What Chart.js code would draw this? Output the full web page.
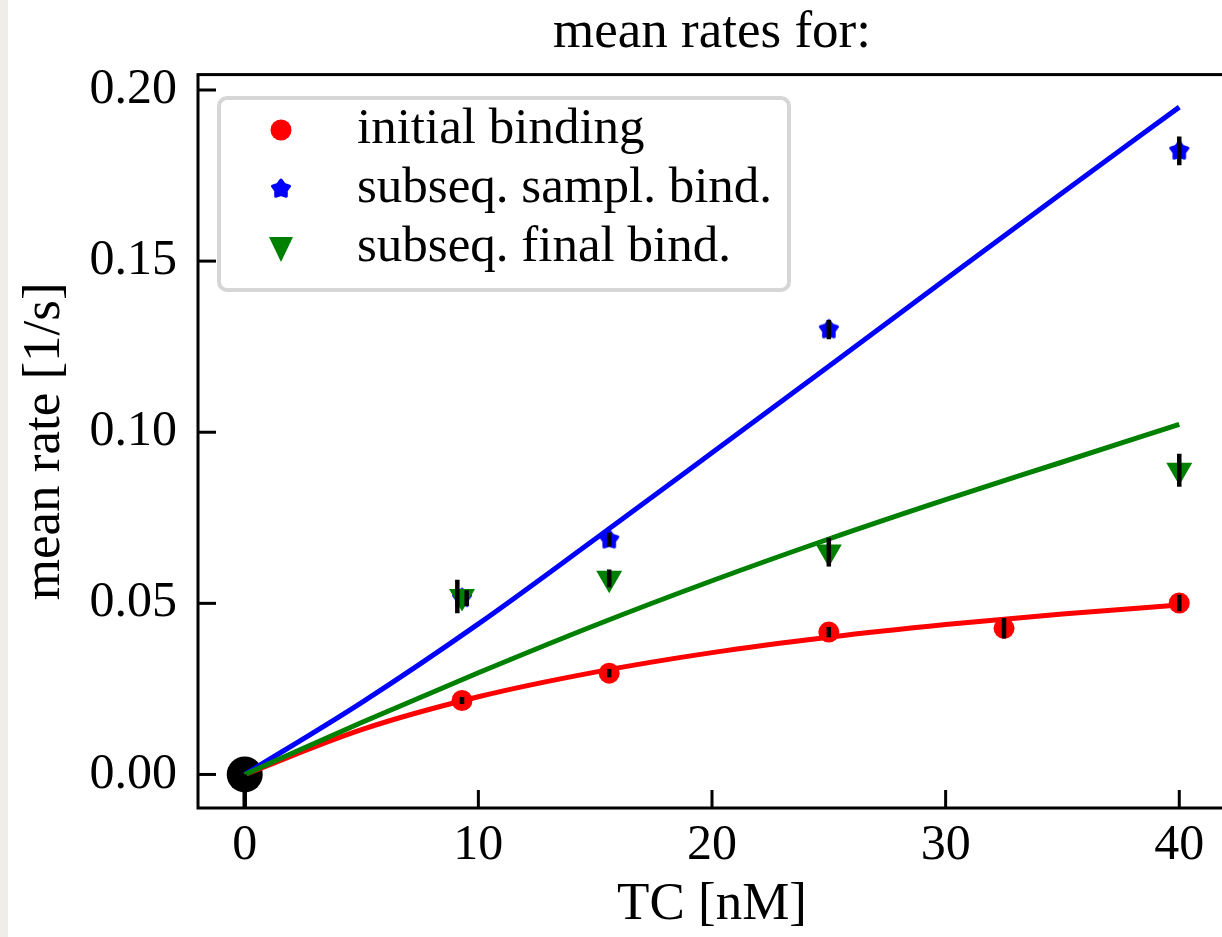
<!DOCTYPE html>
<html>
<head>
<meta charset="utf-8">
<script src="https://cdn.jsdelivr.net/npm/chart.js@4.4.1/dist/chart.umd.min.js"></script>
<style>
  html, body { margin: 0; padding: 0; background: #fff; overflow: hidden; }
  #strip { position: absolute; left: 0; top: 0; width: 8px; height: 937px; background: #efede8; }
  #rates { position: absolute; left: 0; top: 0; }
</style>
</head>
<body>
<div id="strip"></div>
<canvas id="rates" width="1232" height="937"></canvas>
<script>
// measured points (TC in nM, mean rate in 1/s)
var tcRed = [9.3, 15.6, 25, 32.5, 40];
var rateRed = [0.0216, 0.0296, 0.0416, 0.0427, 0.0501];
var errRed = [0.0010, 0.0012, 0.0015, 0.0030, 0.0024];
var errXRed = [9.3, 15.6, 25, 32.5, 40];

var tcBlue = [9.3, 15.6, 25, 40];
var rateBlue = [0.0515, 0.0686, 0.1300, 0.1822];
var errBlue = [0.0023, 0.0020, 0.0028, 0.0042];
var errXBlue = [9.5, 15.6, 25, 40];

var tcGreen = [9.3, 15.6, 25, 40];
var rateGreen = [0.0520, 0.0573, 0.0650, 0.0889];
var errGreen = [0.0049, 0.0026, 0.0042, 0.0048];
var errXGreen = [9.1, 15.6, 25, 40];

var tcOrigin = [0];
var rateOrigin = [0];
var errOriginLow = [0.012];

// fitted curves
var fitTc = [0, 5, 10, 15, 20, 25, 30, 35, 40];
var fitRed = [0, 0.0131, 0.0227, 0.0299, 0.0356, 0.0401, 0.0438, 0.0469, 0.0495];
var fitBlue = [0, 0.0210, 0.0440, 0.0688, 0.0940, 0.1193, 0.1447, 0.1700, 0.1950];
var fitGreen = [0, 0.0152, 0.0297, 0.0436, 0.0566, 0.0688, 0.0803, 0.0913, 0.1023];

var xTicks = [0, 10, 20, 30, 40];
var yTicks = [0, 0.05, 0.10, 0.15, 0.20];
var yTickLabels = ['0.00', '0.05', '0.10', '0.15', '0.20'];

var labels = ['initial binding', 'subseq. sampl. bind.', 'subseq. final bind.'];

var FONT = 'Liberation Serif';

function pts(xs, ys) {
    return xs.map(function (x, i) { return {x: x, y: ys[i]}; });
}

function makeStar(r) {
    var s = Math.ceil(r * 2 + 6);
    var c = document.createElement('canvas');
    c.width = s; c.height = s;
    var g = c.getContext('2d');
    g.translate(s / 2, s / 2);
    g.beginPath();
    for (var i = 0; i < 10; i++) {
        var rr = i % 2 ? r * 0.62 : r;
        var a = -Math.PI / 2 + i * Math.PI / 5;
        g.lineTo(rr * Math.cos(a), rr * Math.sin(a));
    }
    g.closePath();
    g.fillStyle = '#0000ff';
    g.fill();
    g.lineJoin = 'round';
    g.lineWidth = 3;
    g.strokeStyle = '#0000ff';
    g.stroke();
    return c;
}
var star = makeStar(9);

// error bars, inward ticks, frame and legend
var extras = {
    id: 'extras',
    afterDatasetsDraw: function (chart) {
        var ctx = chart.ctx, xs = chart.scales.x, ys = chart.scales.y, a = chart.chartArea;
        var bars = [
            [errXRed, rateRed, errRed, errRed],
            [errXBlue, rateBlue, errBlue, errBlue],
            [errXGreen, rateGreen, errGreen, errGreen],
            [tcOrigin, rateOrigin, errOriginLow, [0]]
        ];
        ctx.save();
        ctx.beginPath();
        ctx.rect(a.left, a.top, a.right - a.left, a.bottom - a.top);
        ctx.clip();
        ctx.strokeStyle = '#000';
        ctx.lineWidth = 4.5;
        bars.forEach(function (b) {
            b[0].forEach(function (x, i) {
                var px = xs.getPixelForValue(x);
                ctx.beginPath();
                ctx.moveTo(px, ys.getPixelForValue(b[1][i] - b[2][i]));
                ctx.lineTo(px, ys.getPixelForValue(b[1][i] + b[3][i]));
                ctx.stroke();
            });
        });
        ctx.restore();
    },
    afterDraw: function (chart) {
        var ctx = chart.ctx, xs = chart.scales.x, ys = chart.scales.y, a = chart.chartArea;
        ctx.save();
        ctx.strokeStyle = '#000';
        ctx.lineWidth = 3;
        ctx.strokeRect(a.left, a.top, a.right - a.left, a.bottom - a.top);
        xTicks.forEach(function (v) {
            var px = xs.getPixelForValue(v);
            ctx.beginPath();
            ctx.moveTo(px, a.bottom);
            ctx.lineTo(px, a.bottom - 18);
            ctx.stroke();
        });
        yTicks.forEach(function (v) {
            var py = ys.getPixelForValue(v);
            ctx.beginPath();
            ctx.moveTo(a.left, py);
            ctx.lineTo(a.left + 18, py);
            ctx.stroke();
        });

        // legend box
        var bx = 219, by = 98, bw = 570, bh = 192, r = 8;
        ctx.beginPath();
        ctx.moveTo(bx + r, by);
        ctx.arcTo(bx + bw, by, bx + bw, by + bh, r);
        ctx.arcTo(bx + bw, by + bh, bx, by + bh, r);
        ctx.arcTo(bx, by + bh, bx, by, r);
        ctx.arcTo(bx, by, bx + bw, by, r);
        ctx.closePath();
        ctx.fillStyle = '#fff';
        ctx.fill();
        ctx.strokeStyle = '#d6d6d6';
        ctx.lineWidth = 4;
        ctx.stroke();

        var rows = [130, 189, 248], mx = 281;
        // red circle
        ctx.fillStyle = '#ff0000';
        ctx.beginPath();
        ctx.arc(mx, rows[0], 10.5, 0, Math.PI * 2);
        ctx.fill();
        // blue star
        ctx.drawImage(star, mx - star.width / 2, rows[1] - star.height / 2);
        // green triangle (down)
        ctx.fillStyle = '#008000';
        ctx.beginPath();
        ctx.moveTo(mx - 12, rows[2] - 11);
        ctx.lineTo(mx + 12, rows[2] - 11);
        ctx.lineTo(mx, rows[2] + 14);
        ctx.closePath();
        ctx.fill();

        ctx.fillStyle = '#000';
        ctx.font = '51px "' + FONT + '"';
        ctx.textBaseline = 'middle';
        ctx.textAlign = 'left';
        labels.forEach(function (t, i) {
            ctx.fillText(t, 357, rows[i]);
        });
        ctx.restore();
    }
};

var ctx = document.getElementById('rates');

var chart = new Chart(ctx, {
    type: 'scatter',
    data: {
        datasets: [
            {
                label: 'origin',
                data: pts(tcOrigin, rateOrigin),
                backgroundColor: '#000',
                pointRadius: 18,
                pointBorderWidth: 0,
                order: 20
            },
            {
                label: 'fit red',
                type: 'line',
                data: pts(fitTc, fitRed),
                borderColor: '#ff0000',
                borderWidth: 5,
                pointRadius: 0,
                cubicInterpolationMode: 'monotone',
                order: 12
            },
            {
                label: 'fit blue',
                type: 'line',
                data: pts(fitTc, fitBlue),
                borderColor: '#0000ff',
                borderWidth: 5,
                pointRadius: 0,
                cubicInterpolationMode: 'monotone',
                order: 11
            },
            {
                label: 'fit green',
                type: 'line',
                data: pts(fitTc, fitGreen),
                borderColor: '#008000',
                borderWidth: 5,
                pointRadius: 0,
                cubicInterpolationMode: 'monotone',
                order: 10
            },
            {
                label: labels[0],
                data: pts(tcRed, rateRed),
                backgroundColor: '#ff0000',
                pointRadius: 10.5,
                pointBorderWidth: 0,
                order: 3
            },
            {
                label: labels[1],
                data: pts(tcBlue, rateBlue),
                pointStyle: star,
                pointRadius: 9,
                order: 2
            },
            {
                label: labels[2],
                data: pts(tcGreen, rateGreen),
                backgroundColor: '#008000',
                pointStyle: 'triangle',
                rotation: 180,
                pointRadius: 15,
                pointBorderWidth: 0,
                order: 1
            }
        ]
    },
    options: {
        responsive: false,
        animation: false,
        devicePixelRatio: 1,
        // canvas is 10px wider than the window so the right spine falls off screen
        layout: { autoPadding: false, padding: { left: 0, right: 6, top: 0, bottom: 0 } },
        plugins: {
            legend: { display: false },
            tooltip: { enabled: false },
            title: {
                display: true,
                text: 'mean rates for:',
                color: '#000',
                fullSize: false,
                font: { family: FONT, size: 53, weight: 'normal' },
                padding: { top: 1, bottom: 10 }
            }
        },
        scales: {
            x: {
                type: 'linear',
                min: -2,
                max: 42,
                grid: { display: false, drawTicks: false },
                border: { display: false },
                afterBuildTicks: function (s) { s.ticks = xTicks.map(function (v) { return {value: v}; }); },
                afterFit: function (s) { s.height = 129; s.paddingLeft = 0; s.paddingRight = 0; },
                ticks: {
                    color: '#000',
                    autoSkip: false,
                    maxRotation: 0,
                    padding: 8,
                    font: { family: FONT, size: 50 },
                    callback: function (v) { return String(v); }
                },
                title: {
                    display: true,
                    text: 'TC [nM]',
                    color: '#000',
                    font: { family: FONT, size: 53 },
                    padding: { top: 0, bottom: 0 }
                }
            },
            y: {
                type: 'linear',
                min: -0.0098,
                max: 0.2045,
                grid: { display: false, drawTicks: false },
                border: { display: false },
                afterBuildTicks: function (s) { s.ticks = yTicks.map(function (v) { return {value: v}; }); },
                afterFit: function (s) { s.width = 198; s.paddingTop = 0; s.paddingBottom = 0; },
                ticks: {
                    color: '#000',
                    autoSkip: false,
                    padding: 21,
                    font: { family: FONT, size: 50 },
                    callback: function (v, i) { return yTickLabels[i]; }
                },
                title: {
                    display: true,
                    text: 'mean rate [1/s]',
                    color: '#000',
                    font: { family: FONT, size: 53 },
                    padding: { top: 13, bottom: 0 }
                }
            }
        }
    },
    plugins: [extras]
});
</script>
</body>
</html>
